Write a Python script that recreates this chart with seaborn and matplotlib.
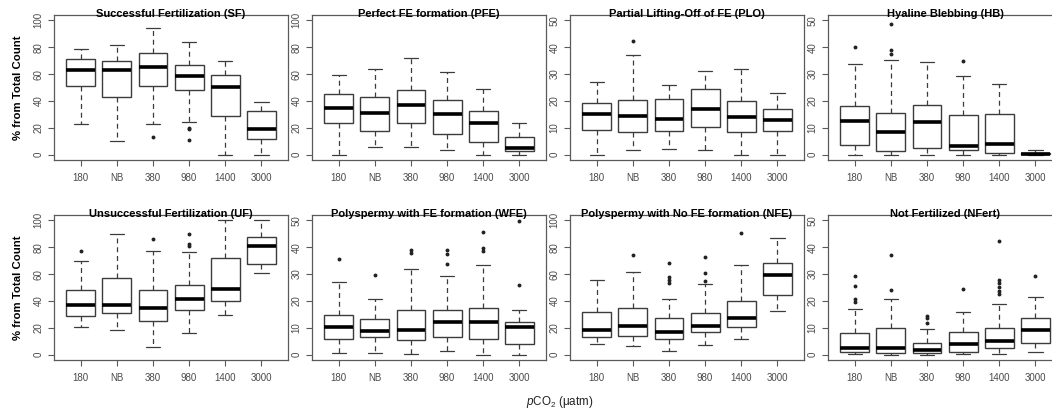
import matplotlib
matplotlib.use("Agg")
import matplotlib.pyplot as plt
import seaborn as sns

# ---------------- data ----------------
groups = ["180", "NB", "380", "980", "1400", "3000"]

titles = ["Successful Fertilization (SF)", "Perfect FE formation (PFE)",
          "Partial Lifting-Off of FE (PLO)", "Hyaline Blebbing (HB)",
          "Unsuccessful Fertilization (UF)", "Polyspermy with FE formation (WFE)",
          "Polyspermy with No FE formation (NFE)", "Not Fertilized (NFert)"]
ymax = [100, 100, 50, 50, 100, 50, 100, 50]

# each: whisker low, Q1, median, Q3, whisker high, outliers
SF_lo = [23, 10, 22.5, 24, 0, 0]
SF_q1 = [51, 43, 51, 48, 28.5, 12]
SF_med = [63, 63, 65, 58.5, 50.5, 19.3]
SF_q3 = [71, 69.5, 75.7, 66.5, 59, 32.5]
SF_hi = [79, 82, 94, 84, 70, 39.5]
SF_out = [[], [], [13.5], [20, 19, 11], [], []]

PFE_lo = [0, 5.5, 5.5, 3.3, 0, 0]
PFE_q1 = [23.3, 17.5, 23.8, 15, 9.5, 2.5]
PFE_med = [35, 31, 37.3, 30, 23.3, 5.3]
PFE_q3 = [45.5, 43, 48.4, 40.8, 32.6, 13.3]
PFE_hi = [59, 64, 72, 61.6, 49, 23.8]
PFE_out = [[], [], [], [], [], []]

PLO_lo = [0, 1.6, 2.1, 1.6, 0, 0]
PLO_q1 = [9.3, 8.3, 8.8, 10.2, 8.3, 8.9]
PLO_med = [15.3, 14.4, 13.3, 16.9, 13.9, 13]
PLO_q3 = [19.4, 20.4, 20.8, 24.6, 19.8, 17]
PLO_hi = [27, 37, 25.8, 31, 31.8, 23]
PLO_out = [[], [42.2], [], [], [], []]

HB_lo = [0, 0, 0, 0, 0, 0]
HB_q1 = [3.6, 1.4, 2.6, 1.9, 0.6, 0.1]
HB_med = [12.7, 8.6, 12, 3.1, 3.8, 0.4]
HB_q3 = [18, 15.4, 18.5, 14.7, 15.2, 0.75]
HB_hi = [33.6, 35.1, 34.5, 29.4, 26.3, 1.8]
HB_out = [[40.2], [48.6, 39, 37.5], [], [34.7], [], []]

UF_lo = [20.7, 18, 5.5, 16, 29.8, 60.9]
UF_q1 = [29, 31, 24.7, 33, 40.2, 67.2]
UF_med = [36.6, 36.6, 34.6, 41.7, 49.2, 80.8]
UF_q3 = [48.5, 56.8, 48.5, 52, 71.7, 87.9]
UF_hi = [70, 90, 77.3, 76.8, 100, 100]
UF_out = [[77.3], [], [86.4], [90, 82.3, 80.8], [], []]

WFE_lo = [0.75, 0.5, 0.25, 1.5, 0, 0]
WFE_q1 = [5.9, 6.5, 5.4, 6.5, 5.8, 4]
WFE_med = [10.4, 8.8, 9, 12.2, 12.2, 10.4]
WFE_q3 = [14.9, 13.4, 16.5, 16.8, 17.4, 12]
WFE_hi = [27, 20.8, 31.8, 29.2, 33.3, 16.5]
WFE_out = [[35.6], [29.7], [39, 37.8], [39, 37.3, 33.8], [45.6, 39.8, 38.5], [49.6, 25.8]]

NFE_lo = [8, 6.3, 3, 7, 11.8, 32.7]
NFE_q1 = [12.8, 14, 11.8, 16.6, 20.8, 44.5]
NFE_med = [18, 21.4, 16.8, 21.1, 27.6, 59.5]
NFE_q3 = [31.7, 35, 27.6, 30.7, 39.7, 68]
NFE_hi = [55.5, 61.8, 41.5, 52.3, 66.8, 87]
NFE_out = [[], [74], [68, 58, 55.8, 53], [72.6, 60.8, 55], [90.7], []]

NFert_lo = [0.25, 0, 0, 0.25, 0.4, 0.9]
NFert_q1 = [1.1, 0.75, 0.75, 1.1, 2.5, 4.3]
NFert_med = [2.3, 2.6, 1.75, 4, 4.9, 9]
NFert_q3 = [8.1, 10.1, 4.3, 8.4, 9.8, 13.8]
NFert_hi = [17, 20.9, 9.5, 15.7, 18.8, 21.3]
NFert_out = [[29.4, 25.4, 20.8, 19.5], [37.1, 23.9], [14.3, 13.7, 11.8], [24.3],
             [42.4, 27.8, 26.6, 25.3, 23.7, 22.4], [29.2]]

panels = [
    (SF_lo, SF_q1, SF_med, SF_q3, SF_hi, SF_out),
    (PFE_lo, PFE_q1, PFE_med, PFE_q3, PFE_hi, PFE_out),
    (PLO_lo, PLO_q1, PLO_med, PLO_q3, PLO_hi, PLO_out),
    (HB_lo, HB_q1, HB_med, HB_q3, HB_hi, HB_out),
    (UF_lo, UF_q1, UF_med, UF_q3, UF_hi, UF_out),
    (WFE_lo, WFE_q1, WFE_med, WFE_q3, WFE_hi, WFE_out),
    (NFE_lo, NFE_q1, NFE_med, NFE_q3, NFE_hi, NFE_out),
    (NFert_lo, NFert_q1, NFert_med, NFert_q3, NFert_hi, NFert_out),
]

# ---------------- style ----------------
sns.set_theme(style="ticks")
plt.rcParams["font.family"] = ["Liberation Sans", "DejaVu Sans"]
plt.rcParams["mathtext.fontset"] = "custom"
plt.rcParams["mathtext.rm"] = "Liberation Sans"
plt.rcParams["mathtext.it"] = "Liberation Sans:italic"

W, H = 1052, 409
fig = plt.figure(figsize=(W / 100, H / 100), dpi=100)
fig.patch.set_facecolor("white")

line_c = "#3c3c3c"
frame_c = "#5a5a5a"
tick_c = "#4a4a4a"

lefts = [54, 312, 570, 828]
tops = [15, 215]
aw, ah = 234, 145

for i, (lo, q1, med, q3, hi, out) in enumerate(panels):
    r, c = divmod(i, 4)
    ax = fig.add_axes([lefts[c] / W, 1 - (tops[r] + ah) / H, aw / W, ah / H])
    stats = [dict(label=g, whislo=lo[k], q1=q1[k], med=med[k], q3=q3[k],
                  whishi=hi[k], fliers=out[k]) for k, g in enumerate(groups)]
    ax.bxp(stats, positions=range(1, 7), widths=0.8, capwidths=0.4,
           showfliers=True, patch_artist=True,
           boxprops=dict(facecolor="white", edgecolor=line_c, linewidth=1.0),
           medianprops=dict(color="black", linewidth=2.6, solid_capstyle="butt"),
           whiskerprops=dict(color=line_c, linewidth=0.9, linestyle=(0, (4, 3))),
           capprops=dict(color=line_c, linewidth=0.9),
           flierprops=dict(marker="o", markersize=1.8, markerfacecolor="#222222",
                           markeredgecolor="#222222", linestyle="none"))
    ym = ymax[i]
    ax.set_xlim(0.26, 6.74)
    ax.set_ylim(-0.04 * ym, 1.04 * ym)
    ax.set_yticks(range(0, ym + 1, ym // 5))
    ax.set_xticks(range(1, 7))
    ax.set_xticklabels(groups)
    ax.set_facecolor("white")
    for s in ax.spines.values():
        s.set_color(frame_c)
        s.set_linewidth(0.9)
        s.set_visible(True)
    ax.tick_params(axis="both", direction="out", length=4.3, width=0.8,
                   color=frame_c, labelcolor=tick_c, labelsize=7.0)
    ax.tick_params(axis="x", pad=5.0)
    ax.tick_params(axis="y", pad=3.2)
    for lab in ax.get_yticklabels():
        lab.set_rotation(90)
        lab.set_va("center")
    ax.grid(False)
    ax.text(0.5, 1 - 1.8 / ah, titles[i], transform=ax.transAxes,
            ha="center", va="baseline", fontsize=8.0, fontweight="bold",
            color="black", zorder=10)
    if c == 0:
        ax.text((18 - lefts[0]) / aw, 0.5, "% from Total Count",
                transform=ax.transAxes, rotation=90, ha="center", va="center",
                fontsize=8.2, fontweight="bold", color="black")

fig.text(560 / W, 1 - 402 / H, r"$\it{p}$CO$_{2}$ ($\mathrm{\mu}$atm)",
         ha="center", va="center", fontsize=8.4, color="#222222")

fig.savefig("out.png", dpi=100, facecolor="white")
